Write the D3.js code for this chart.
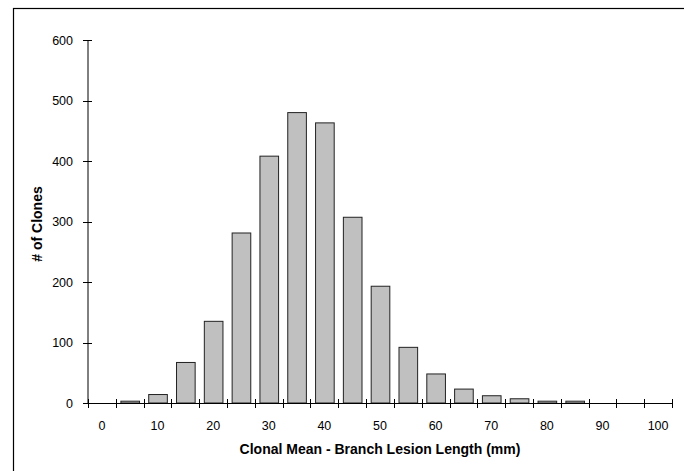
<!DOCTYPE html>
<html><head><meta charset="utf-8">
<script src="https://cdn.jsdelivr.net/npm/d3@7"></script>
<style>body{margin:0;background:#fff}svg{display:block}text{font-family:"Liberation Sans",Arial,sans-serif}</style>
</head><body>
<svg id="c" width="684" height="471"></svg>
<script>
const categories = [0,5,10,15,20,25,30,35,40,45,50,55,60,65,70,75,80,85,90,95,100];
const counts = [0,3,14,67,135,281,408,480,463,307,193,92,48,23,12,7,3,3,0,0,0];
const yTicks = [0,100,200,300,400,500,600];
const xLabels = [0,10,20,30,40,50,60,70,80,90,100];

const svg = d3.select("#c");
svg.append("rect").attr("x",13.5).attr("y",8.5).attr("width",700).attr("height",500)
  .attr("fill","none").attr("stroke","#000").attr("stroke-width",1.2);

const L = 88, R = 672, T = 40, B = 403;
const x = d3.scaleBand().domain(categories).range([L, R]).paddingInner(0.33).paddingOuter(0.165);
const xb = d3.scaleBand().domain(categories).range([L, R]);
const y = d3.scaleLinear().domain([0, 600]).range([B, T]);

const g = svg.append("g");
g.selectAll("rect.bar").data(categories.map((c,i)=>({c, v:counts[i]})).filter(d=>d.v>0))
  .enter().append("rect").attr("class","bar")
  .attr("x", d => x(d.c) + 0.5).attr("width", x.bandwidth())
  .attr("y", d => y(d.v)).attr("height", d => B - y(d.v))
  .attr("fill","#c0c0c0").attr("stroke","#222").attr("stroke-width",1);

// y axis
g.append("line").attr("x1",L).attr("x2",L).attr("y1",T).attr("y2",B).attr("stroke","#000");
g.selectAll("line.yt").data(yTicks).enter().append("line")
  .attr("x1",L-5).attr("x2",L+4).attr("y1",d=>Math.round(y(d))+0.5).attr("y2",d=>Math.round(y(d))+0.5).attr("stroke","#000");
g.selectAll("text.yl").data(yTicks).enter().append("text")
  .attr("x",L-15).attr("y",d=>y(d)+4.5).attr("text-anchor","end").attr("font-size",12.5).text(d=>d);

// x axis
g.append("line").attr("x1",L).attr("x2",R).attr("y1",B+0.5).attr("y2",B+0.5).attr("stroke","#000");
const bounds = categories.map(c => xb(c)).concat([R]);
g.selectAll("line.xt").data(bounds).enter().append("line")
  .attr("x1",d=>Math.round(d)+0.5).attr("x2",d=>Math.round(d)+0.5).attr("y1",B-4).attr("y2",B+5).attr("stroke","#000");
g.selectAll("text.xl").data(xLabels).enter().append("text")
  .attr("x",d=>xb(d)+xb.bandwidth()/2).attr("y",B+27).attr("text-anchor","middle").attr("font-size",12.5).text(d=>d);

svg.append("text").attr("x",380).attr("y",454).attr("text-anchor","middle").attr("font-size",14)
  .attr("font-weight","bold").text("Clonal Mean - Branch Lesion Length (mm)");
svg.append("text").attr("transform","translate(42,224) rotate(-90)").attr("text-anchor","middle")
  .attr("font-size",14).attr("font-weight","bold").text("# of Clones");
</script>
</body></html>
